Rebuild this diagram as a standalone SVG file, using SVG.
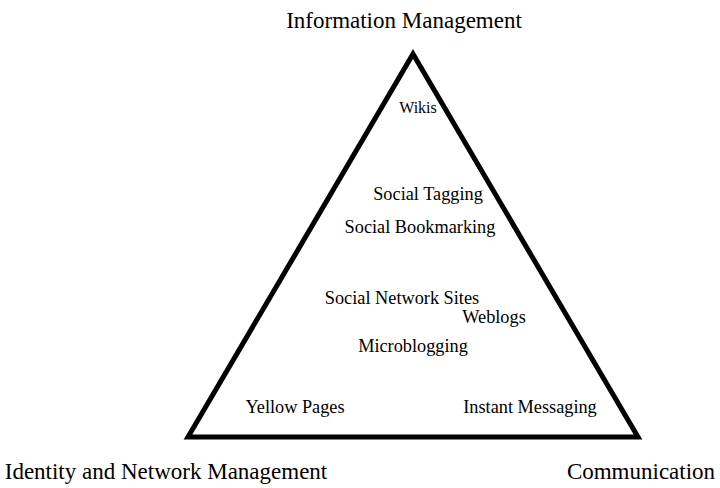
<svg xmlns="http://www.w3.org/2000/svg" width="720" height="488" viewBox="0 0 720 488">
<style>
text{font-family:"Liberation Serif","Times New Roman",serif;fill:#000;text-anchor:middle}
.c{font-size:23px}
.i{font-size:18.3px}
.w{font-size:16px}
</style>
<rect width="720" height="488" fill="#fff"/>
<g id="connectors">
<polygon points="188,437 413,54 638,437" fill="none" stroke="#000" stroke-width="5" stroke-linejoin="miter"/>
</g>
<g id="info"><text class="c" x="404" y="28">Information Management</text></g>
<g id="identity"><text class="c" x="166" y="479">Identity and Network Management</text></g>
<g id="comm"><text class="c" x="641" y="479">Communication</text></g>
<g id="wikis"><text class="w" x="418" y="113">Wikis</text></g>
<g id="tagging"><text class="i" x="428" y="200">Social Tagging</text></g>
<g id="bookmarking"><text class="i" x="420" y="233">Social Bookmarking</text></g>
<g id="sns"><text class="i" x="402" y="304">Social Network Sites</text></g>
<g id="weblogs"><text class="i" x="494" y="323">Weblogs</text></g>
<g id="micro"><text class="i" x="413" y="352">Microblogging</text></g>
<g id="yellow"><text class="i" x="295" y="413">Yellow Pages</text></g>
<g id="im"><text class="i" x="530" y="413">Instant Messaging</text></g>
</svg>
